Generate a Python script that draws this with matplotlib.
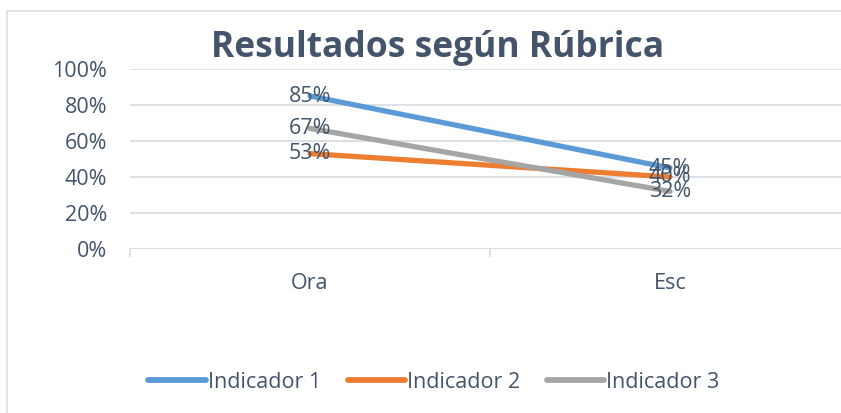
import matplotlib
matplotlib.use("Agg")
import matplotlib.pyplot as plt
from matplotlib.patches import Rectangle
from matplotlib.lines import Line2D

categories = ["Ora", "Esc"]
series_names = ["Indicador 1", "Indicador 2", "Indicador 3"]
ind1 = [0.85, 0.45]
ind2 = [0.53, 0.40]
ind3 = [0.67, 0.32]
values = [ind1, ind2, ind3]
colors = ["#5B9BD5", "#ED7D31", "#A5A5A5"]
yticks = [0, 0.2, 0.4, 0.6, 0.8, 1.0]
ytick_labels = ["0%", "20%", "40%", "60%", "80%", "100%"]
title = "Resultados según Rúbrica"

txt = "#44546A"
grid = "#D9DEE6"
fs = 15.5
W, H = 841, 413
fig = plt.figure(figsize=(W / 100, H / 100), dpi=100)
plt.rcParams["font.family"] = ["Open Sans", "DejaVu Sans"]

# chart border
fig.patches.append(Rectangle((7 / W, -0.1), 1.2, (H - 11) / H + 0.1, transform=fig.transFigure,
                             fill=False, edgecolor="#D9DEE6", linewidth=1.2))

x0, x1 = 130, 850
y0, y1 = 249, 69
ax = fig.add_axes([x0 / W, (H - y0) / H, (x1 - x0) / W, (y0 - y1) / H])
ax.set_xlim(-0.5, 1.5)
ax.set_ylim(0, 1.0)
for s in ax.spines.values():
    s.set_visible(False)
ax.set_yticks(yticks)
ax.set_yticklabels(ytick_labels, color=txt, fontsize=fs)
ax.tick_params(axis="y", length=0, pad=16.5)
ax.yaxis.grid(True, color=grid, linewidth=1.3)
ax.set_axisbelow(True)
ax.set_xticks(range(len(categories)))
ax.set_xticklabels(categories, color=txt, fontsize=fs)
ax.tick_params(axis="x", length=0, pad=17)
# category boundary ticks
for b in [-0.5, 0.5, 1.5]:
    ax.plot([b, b], [0, -0.04], color=grid, linewidth=1.3, clip_on=False)
ax.axhline(0, color=grid, linewidth=1.3)

xs = list(range(len(categories)))
for name, vals, c in zip(series_names, values, colors):
    ax.plot(xs, vals, color=c, linewidth=3.8, solid_capstyle="round", label=name)
    for x, v in zip(xs, vals):
        ax.text(x, v, f"{round(v * 100)}%", ha="center", va="center", color=txt, fontsize=fs)

fig.text(438 / W, 1 - 57 / H, title, ha="center", va="baseline", fontsize=25.5,
         fontweight="bold", color=txt)

handles = [Line2D([0], [0], color=c, linewidth=4.2, solid_capstyle="round") for c in colors]
fig.legend(handles, series_names, loc="center", bbox_to_anchor=(434 / W, 1 - 382 / H), ncol=3,
           frameon=False, fontsize=fs, labelcolor=txt, handlelength=2.65, handletextpad=0.1,
           columnspacing=1.25)

fig.savefig("out.png", dpi=100)
